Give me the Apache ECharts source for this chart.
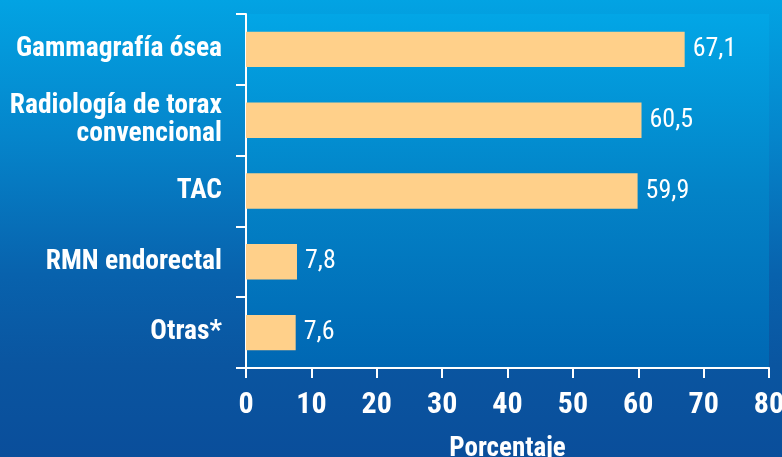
<!DOCTYPE html>
<html>
<head>
<meta charset="utf-8">
<script src="https://cdn.jsdelivr.net/npm/echarts@6/dist/echarts.min.js"></script>
<style>
html,body{margin:0;padding:0;}
#c{width:782px;height:457px;}
</style>
</head>
<body>
<div id="c"></div>
<script>
const categories = ["Gammagrafía ósea", "Radiología de torax\nconvencional", "TAC", "RMN endorectal", "Otras*"];
const values = [67.1, 60.5, 59.9, 7.8, 7.6];
const xTicks = [0, 10, 20, 30, 40, 50, 60, 70, 80];
const axisName = "Porcentaje";

const FONT = '"Roboto Condensed", "Liberation Sans Narrow", "Arial Narrow", sans-serif';
const chart = echarts.init(document.getElementById('c'));
chart.setOption({
  animation: false,
  backgroundColor: {
    type: 'linear', x: 0, y: 0, x2: 0, y2: 1,
    colorStops: [
      {offset: 0, color: '#02a3e3'},
      {offset: 0.3, color: '#0585cb'},
      {offset: 0.6, color: '#0862ad'},
      {offset: 0.8, color: '#0a55a0'},
      {offset: 1, color: '#0a4e9b'}
    ]
  },
  grid: {
    left: 246, right: 13, top: 14, bottom: 89,
    outerBoundsMode: 'none',
    show: true, borderWidth: 0,
    backgroundColor: {
      type: 'linear', x: 0, y: 0, x2: 0, y2: 1,
      colorStops: [
        {offset: 0, color: '#02a6e6'},
        {offset: 0.5, color: '#0383c7'},
        {offset: 1, color: '#0067b3'}
      ]
    }
  },
  xAxis: {
    type: 'value', min: xTicks[0], max: xTicks[xTicks.length - 1], interval: 10,
    axisLine: {show: true, lineStyle: {color: '#ffffff', width: 2}},
    axisTick: {show: true, length: 10, lineStyle: {color: '#ffffff', width: 2}},
    splitLine: {show: false},
    axisLabel: {color: '#ffffff', fontFamily: FONT, fontWeight: 'bold', fontSize: 30, margin: 22},
    name: axisName, nameLocation: 'middle', nameGap: 68,
    nameTextStyle: {color: '#ffffff', fontFamily: FONT, fontWeight: 'bold', fontSize: 27}
  },
  yAxis: {
    type: 'category', data: categories, inverse: true,
    axisLine: {show: true, lineStyle: {color: '#ffffff', width: 2}},
    axisTick: {show: true, length: 10, lineStyle: {color: '#ffffff', width: 2}},
    axisLabel: {color: '#ffffff', fontFamily: FONT, fontWeight: 'bold', fontSize: 27.5, margin: 24, lineHeight: 28, align: 'right'}
  },
  series: [{
    type: 'bar', data: values, barWidth: '50%',
    itemStyle: {color: '#ffd08a'},
    label: {
      show: true, position: 'right', distance: 8,
      color: '#ffffff', fontFamily: FONT, fontSize: 26,
      formatter: p => String(p.value).replace('.', ',')
    }
  }]
});
</script>
</body>
</html>
